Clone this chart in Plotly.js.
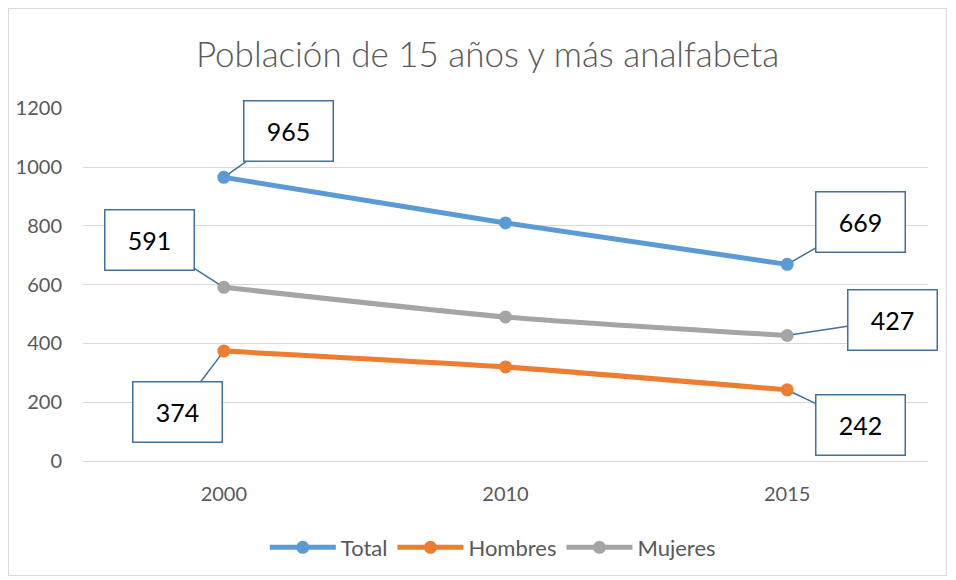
<!DOCTYPE html>
<html><head><meta charset="utf-8">
<script src="https://cdn.plot.ly/plotly-3.0.1.min.js"></script>
<style>
html,body{margin:0;padding:0;background:#fff;}
#wrap{position:relative;width:956px;height:580px;}
#frame{position:absolute;left:8px;top:8px;width:939px;height:568px;border:1px solid #d9d9d9;box-sizing:border-box;pointer-events:none;}
#chart{position:absolute;left:0;top:0;width:956px;height:580px;}
</style></head>
<body><div id="wrap"><div id="chart"></div><div id="frame"></div></div>
<script>
const years = ['2000', '2010', '2015'];
const total = [965, 810, 669];
const hombres = [374, 320, 242];
const mujeres = [591, 490, 427];
const seriesNames = ['Total', 'Hombres', 'Mujeres'];
const colors = ['#5b9bd5', '#ed7d31', '#a5a5a5'];
const yTicks = [0, 200, 400, 600, 800, 1000, 1200];

const seriesVals = [total, hombres, mujeres];
const traces = seriesVals.map((v, i) => ({
  x: years, y: v, name: seriesNames[i], type: 'scatter', mode: 'lines+markers',
  line: {color: colors[i], width: 5, shape: 'spline', smoothing: 0.6},
  marker: {color: colors[i], size: 13}
}));

const callouts = [
  [total, 0, 65, -46], [total, 2, 73, -42],
  [mujeres, 0, -74, -47], [mujeres, 2, 105, -16],
  [hombres, 0, -46, 61], [hombres, 2, 73, 35]
];
const notes = callouts.map(c => ({
  x: c[1], y: c[0][c[1]], xref: 'x', yref: 'y',
  text: String(c[0][c[1]]), showarrow: true, ax: c[2], ay: c[3],
  arrowhead: 0, arrowwidth: 1.5, arrowcolor: '#41719c', standoff: 6,
  bgcolor: '#ffffff', bordercolor: '#41719c', borderwidth: 1.5, borderpad: 1,
  width: 86, height: 57,
  font: {family: 'Lato, "Noto Sans", sans-serif', size: 25, color: '#000'}
}));

const tickFont = {family: 'Lato, "Noto Sans", sans-serif', size: 20, color: '#595959'};
const layout = {
  width: 956, height: 580,
  paper_bgcolor: '#fff', plot_bgcolor: '#fff',
  margin: {l: 83, r: 28, t: 108, b: 117},
  title: {text: 'Población de 15 años y más analfabeta', x: 0.51, xanchor: 'center', y: 0.905, yanchor: 'middle',
    font: {family: 'Lato, "Noto Sans", sans-serif', size: 35, weight: 300, color: '#595959'}},
  xaxis: {type: 'category', range: [-0.5, 2.5], showgrid: false, zeroline: false, showline: false,
    ticks: 'outside', ticklen: 15, tickcolor: 'rgba(0,0,0,0)', tickfont: tickFont},
  yaxis: {range: [0, 1201], tickvals: yTicks, showgrid: true, gridcolor: '#d9d9d9', gridwidth: 1,
    zeroline: true, zerolinecolor: '#d9d9d9', zerolinewidth: 1, showline: false,
    ticks: 'outside', ticklen: 16, tickcolor: 'rgba(0,0,0,0)',
    tickfont: tickFont},
  showlegend: true,
  legend: {orientation: 'h', x: 0.485, xanchor: 'center', y: -0.245, yanchor: 'middle',
    font: {family: 'Lato, "Noto Sans", sans-serif', size: 22, color: '#595959'}, itemwidth: 66},
  annotations: notes
};
Plotly.newPlot('chart', traces, layout, {displayModeBar: false});
</script></body></html>
